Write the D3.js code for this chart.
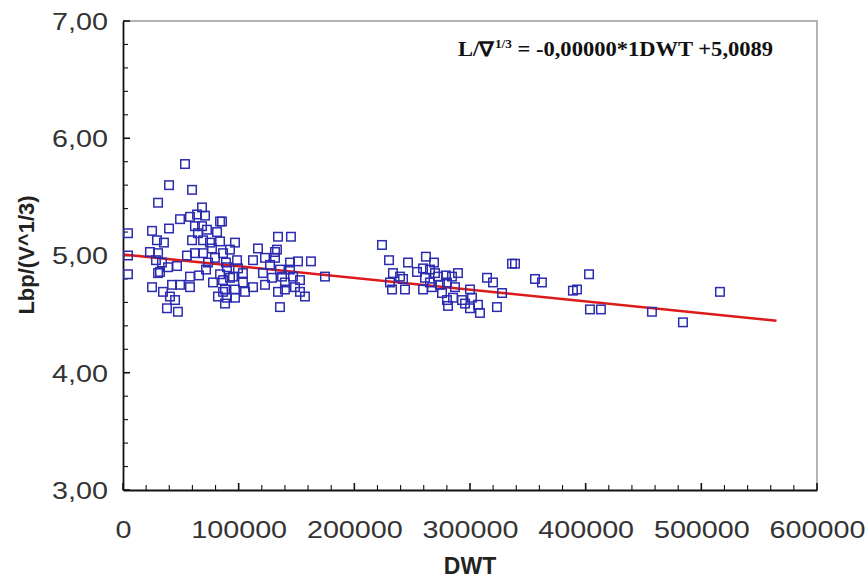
<!DOCTYPE html>
<html><head><meta charset="utf-8">
<script src="https://cdn.jsdelivr.net/npm/d3@7"></script>
<style>body{margin:0;background:#fff}svg{display:block}</style>
</head><body>
<svg id="c" width="865" height="578"></svg>
<script>
// ---- data ----
const dwt = [4300,4300,4300,53600,39800,59700,30300,68300,49300,57900,64000,70900,62200,68300,83900,25100,39800,64800,72600,81300,29400,35400,59700,69200,75200,83900,23300,30300,55300,62200,69200,28500,33700,38900,32000,46700,30300,57900,65700,83900,25100,34600,42400,49300,57900,40600,45000,38000,47500,86500,88200,76900,79500,73500,89000,92500,71800,77800,92500,82100,85600,96800,86500,98600,89900,95100,88200,96800,89900,96800,103700,105500,112400,103700,99400,86500,116700,112400,122800,121000,122800,128800,131400,131400,134000,145200,135700,137500,140000,144400,144400,151300,162500,147000,148700,153000,157300,135700,134000,174600,140000,127100,133100,153000,223900,230000,246400,261900,268900,254200,233400,239500,230800,242100,232600,243800,259400,265400,261100,269700,272300,279200,284400,289600,259400,267100,274000,280100,287000,275800,280100,285300,281000,300000,301700,295700,300000,306900,308600,314700,319900,327700,323300,338900,336300,356200,362200,265400,293100,389000,392500,402900,403700,413200,457300,484100,516100];
const ratio = [5.19,5.00,4.84,5.78,5.60,5.56,5.45,5.41,5.31,5.33,5.35,5.34,5.25,5.25,5.29,5.21,5.23,5.19,5.22,5.20,5.13,5.11,5.13,5.13,5.11,5.12,5.03,5.02,5.00,5.02,5.02,4.96,4.94,4.90,4.86,4.91,4.85,4.82,4.83,4.84,4.73,4.69,4.75,4.75,4.73,4.65,4.62,4.55,4.52,4.69,4.59,5.06,4.98,4.94,4.94,5.05,4.88,4.77,4.81,4.65,5.29,5.11,5.02,4.96,4.90,4.82,4.71,4.71,4.64,4.64,4.77,4.69,4.73,4.85,4.89,4.79,5.06,4.96,4.98,4.85,4.75,4.81,5.03,4.98,5.16,5.16,4.88,4.82,4.77,4.94,4.88,4.95,4.95,4.82,4.73,4.69,4.65,4.56,4.69,4.82,4.71,4.92,5.05,4.79,5.09,4.96,4.94,4.99,4.94,4.86,4.85,4.82,4.77,4.80,4.71,4.71,4.89,4.88,4.81,4.85,4.82,4.83,4.82,4.85,4.71,4.73,4.75,4.77,4.73,4.68,4.62,4.64,4.57,4.71,4.64,4.59,4.55,4.58,4.51,4.81,4.77,4.68,4.56,4.93,4.93,4.80,4.77,4.77,4.62,4.70,4.71,4.84,4.54,4.54,4.52,4.43,4.69];
const xTicks = [0,100000,200000,300000,400000,500000,600000];
const yTicks = [3,4,5,6,7];
const yTickLabels = ["3,00","4,00","5,00","6,00","7,00"];
const fitIntercept = 5.0089;
const fitSlope = -0.000001;
const fitRange = [0, 565000];
const equation = {pre:"L/\u2207", sup:"1/3", post:" = -0,00000*1DWT +5,0089"};
const xTitle = "DWT";
const yTitle = "Lbp/(V^1/3)";

// ---- chart ----
const svg = d3.select("#c");
const L=123, R=817, T=21, B=490;
const x = d3.scaleLinear().domain([0,600000]).range([L,R]);
const y = d3.scaleLinear().domain([3,7]).range([B,T]);
const SX = 1.25;

// frame top/right
svg.append("path").attr("d",`M${L},${T}H${R}V${B}`).attr("fill","none").attr("stroke","#9a9a9a").attr("stroke-width",1.5);

// minor ticks
const xMinor = d3.range(0,600001,20000);
const yMinor = d3.range(3,7.001,0.2);
svg.append("g").selectAll("line").data(xMinor).join("line")
  .attr("x1",d=>x(d)).attr("x2",d=>x(d)).attr("y1",B).attr("y2",d=>B-(d%100000===0?7:5))
  .attr("stroke","#111").attr("stroke-width",d=>d%100000===0?1.6:1.1);
svg.append("g").selectAll("line").data(yMinor).join("line")
  .attr("y1",d=>y(d)).attr("y2",d=>y(d)).attr("x1",L).attr("x2",d=>L+(Math.abs(d-Math.round(d))<1e-6?7:5))
  .attr("stroke","#111").attr("stroke-width",d=>Math.abs(d-Math.round(d))<1e-6?1.6:1.1);

// axes via d3
const xAxis = svg.append("g").attr("transform",`translate(0,${B})`)
  .call(d3.axisBottom(x).tickValues(xTicks).tickSize(0).tickPadding(34).tickFormat(d3.format("d")));
const yAxis = svg.append("g").attr("transform",`translate(${L},0)`)
  .call(d3.axisLeft(y).tickValues(yTicks).tickSize(0).tickPadding(15).tickFormat((d,i)=>yTickLabels[i]));
[xAxis,yAxis].forEach(g=>{
  g.select(".domain").attr("stroke","#111").attr("stroke-width",1.8);
  g.selectAll("text").attr("font-family","Liberation Sans, Arial, sans-serif").attr("font-size",23).attr("fill","#333")
    .attr("transform",`scale(${SX},1)`);
});
xAxis.selectAll("text").attr("dy",null).attr("y",48);
yAxis.selectAll("text").attr("dy","0.36em").attr("x",-15/SX);

// fit line
svg.append("line")
  .attr("x1",x(fitRange[0])).attr("y1",y(fitIntercept+fitSlope*fitRange[0]))
  .attr("x2",x(fitRange[1])).attr("y2",y(fitIntercept+fitSlope*fitRange[1]))
  .attr("stroke","#dd1a1a").attr("stroke-width",2.6);

// points
const s=8.5;
svg.append("g").selectAll("rect").data(dwt.map((d,i)=>[d,ratio[i]])).join("rect")
  .attr("x",d=>x(d[0])-s/2).attr("y",d=>y(d[1])-s/2).attr("width",s).attr("height",s)
  .attr("fill","none").attr("stroke","#2c2cb0").attr("stroke-width",1.5);

// titles
svg.append("text").attr("x",470).attr("y",574).attr("text-anchor","middle")
  .attr("font-family","Liberation Sans, Arial, sans-serif").attr("font-weight","bold").attr("font-size",23).attr("fill","#222").text(xTitle);
svg.append("text").attr("transform","translate(34,255) rotate(-90)").attr("text-anchor","middle")
  .attr("font-family","Liberation Sans, Arial, sans-serif").attr("font-weight","bold").attr("font-size",22).attr("fill","#222").text(yTitle);

// equation
const eq = svg.append("text").attr("transform","translate(458,56) scale(1.1,1)")
  .attr("font-family","Liberation Serif, Times New Roman, serif").attr("font-weight","bold").attr("font-size",20.5).attr("fill","#111");
eq.append("tspan").text(equation.pre);
eq.append("tspan").attr("dy",-8).attr("font-size",12).text(equation.sup);
eq.append("tspan").attr("dy",8).text(equation.post);
</script>
</body></html>
